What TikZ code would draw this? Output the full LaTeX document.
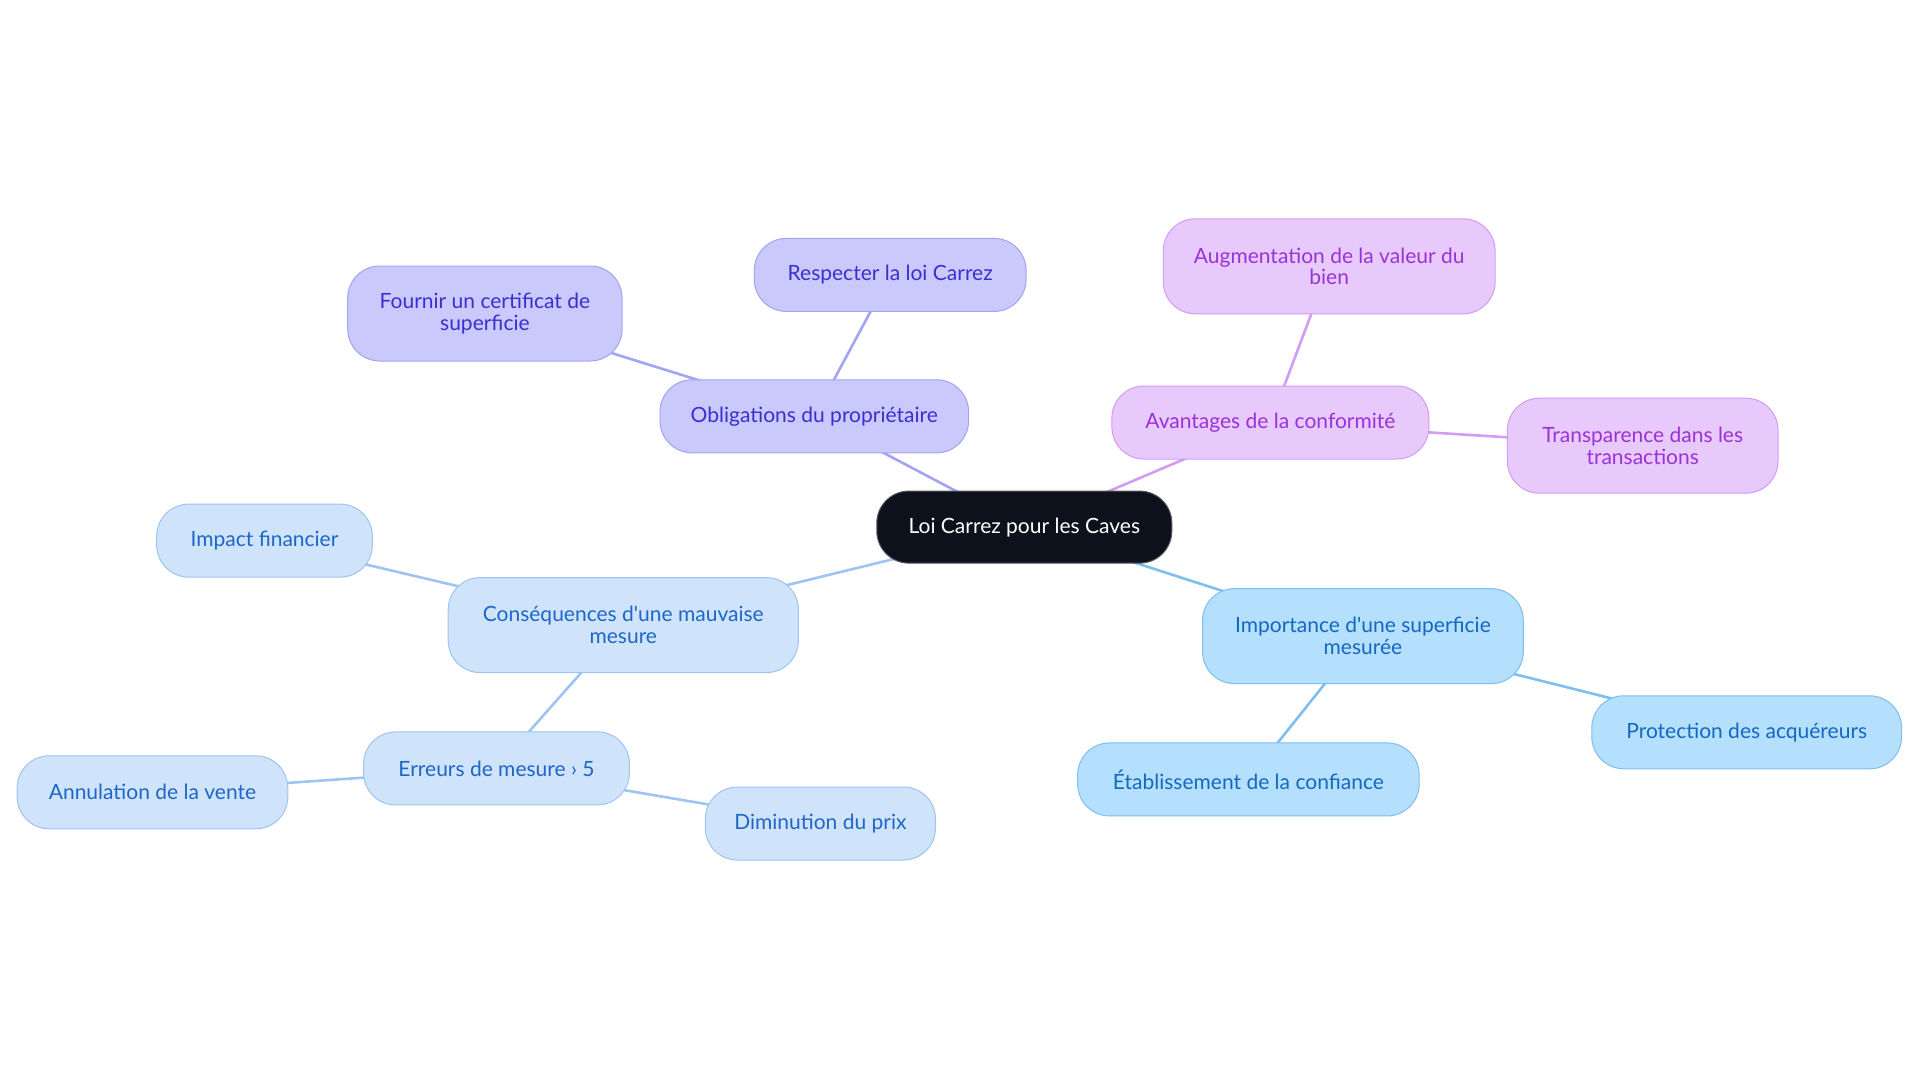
\documentclass[tikz,border=0pt]{standalone}
\usepackage{fontspec}
\setmainfont{Lato}
\usetikzlibrary{backgrounds}
\definecolor{racine}{HTML}{0C111B}
\definecolor{lavfond}{HTML}{C9C9FC}
\definecolor{lavbord}{HTML}{A3A3F3}
\definecolor{lavtexte}{HTML}{3A2FCF}
\definecolor{violfond}{HTML}{E8C9FC}
\definecolor{violbord}{HTML}{D29CF2}
\definecolor{violtexte}{HTML}{9A32D8}
\definecolor{cielfond}{HTML}{B4DFFD}
\definecolor{cielbord}{HTML}{7FBFF0}
\definecolor{cieltexte}{HTML}{1468C2}
\definecolor{palefond}{HTML}{CFE3FB}
\definecolor{palebord}{HTML}{9EC4F1}
\definecolor{paletexte}{HTML}{1E66C8}

\begin{document}
\begin{tikzpicture}[x=0.5pt,y=-0.5pt, font=\fontsize{10.5}{10.8}\selectfont,
	bulle/.style={rounded corners=16pt, line width=0.5pt, minimum height=36.5pt, align=center, inner sep=0pt},
	haut/.style={minimum height=47.5pt},
	lav/.style={bulle, fill=lavfond, draw=lavbord, text=lavtexte},
	viol/.style={bulle, fill=violfond, draw=violbord, text=violtexte},
	ciel/.style={bulle, fill=cielfond, draw=cielbord, text=cieltexte},
	pale/.style={bulle, fill=palefond, draw=palebord, text=paletexte},
	lien/.style={line width=1.3pt}]
	\useasboundingbox (0,0) rectangle (1920,1083);
	% centre
	\node[bulle, fill=racine, draw=racine!70!white, text=white, minimum width=147.5pt, minimum height=36pt] (loi) at (1024.3,527.1) {Loi Carrez pour les Caves};
	% obligations
	\node[lav, minimum width=154.3pt] (oblig) at (814.3,416.3) {Obligations du propriétaire};
	\node[lav, minimum width=135.9pt] (respect) at (890.2,274.9) {Respecter la loi Carrez};
	\node[lav, haut, minimum width=137.2pt] (certif) at (484.9,313.5) {Fournir un certificat de\\superficie};
	% avantages
	\node[viol, minimum width=158.5pt] (avant) at (1270.4,422.5) {Avantages de la conformité};
	\node[viol, haut, minimum width=165.9pt] (valeur) at (1329.2,266.3) {Augmentation de la valeur du\\bien};
	\node[viol, haut, minimum width=135.3pt] (transp) at (1642.7,445.7) {Transparence dans les\\transactions};
	% importance
	\node[ciel, haut, minimum width=160.4pt] (import) at (1362.9,636.1) {Importance d\textquotesingle une superficie\\mesurée};
	\node[ciel, minimum width=154.9pt] (protec) at (1746.7,732.3) {Protection des acquéreurs};
	\node[ciel, minimum width=170.8pt] (confi) at (1248.4,779.4) {Établissement de la confiance};
	% consequences
	\node[pale, haut, minimum width=175.1pt] (conseq) at (623.3,625.1) {Conséquences d\textquotesingle une mauvaise\\mesure};
	\node[pale, minimum width=107.8pt] (impact) at (264.5,540.6) {Impact financier};
	\node[pale, minimum width=132.9pt] (erreur) at (496.5,768.4) {Erreurs de mesure › 5};
	\node[pale, minimum width=135.3pt] (annul) at (152.5,792.3) {Annulation de la vente};
	\node[pale, minimum width=115.1pt] (dimin) at (820.4,823.5) {Diminution du prix};
	\begin{scope}[on background layer]
		\draw[lien, lavbord] (loi.center) -- (oblig.center);
		\draw[lien, lavbord] (oblig.center) -- (respect.center);
		\draw[lien, lavbord] (oblig.center) -- (certif.center);
		\draw[lien, violbord] (loi.center) -- (avant.center);
		\draw[lien, violbord] (avant.center) -- (valeur.center);
		\draw[lien, violbord] (avant.center) -- (transp.center);
		\draw[lien, cielbord] (loi.center) -- (import.center);
		\draw[lien, cielbord] (import.center) -- (protec.center);
		\draw[lien, cielbord] (import.center) -- (confi.center);
		\draw[lien, palebord] (loi.center) -- (conseq.center);
		\draw[lien, palebord] (conseq.center) -- (impact.center);
		\draw[lien, palebord] (conseq.center) -- (erreur.center);
		\draw[lien, palebord] (erreur.center) -- (annul.center);
		\draw[lien, palebord] (erreur.center) -- (dimin.center);
	\end{scope}
\end{tikzpicture}
\end{document}
